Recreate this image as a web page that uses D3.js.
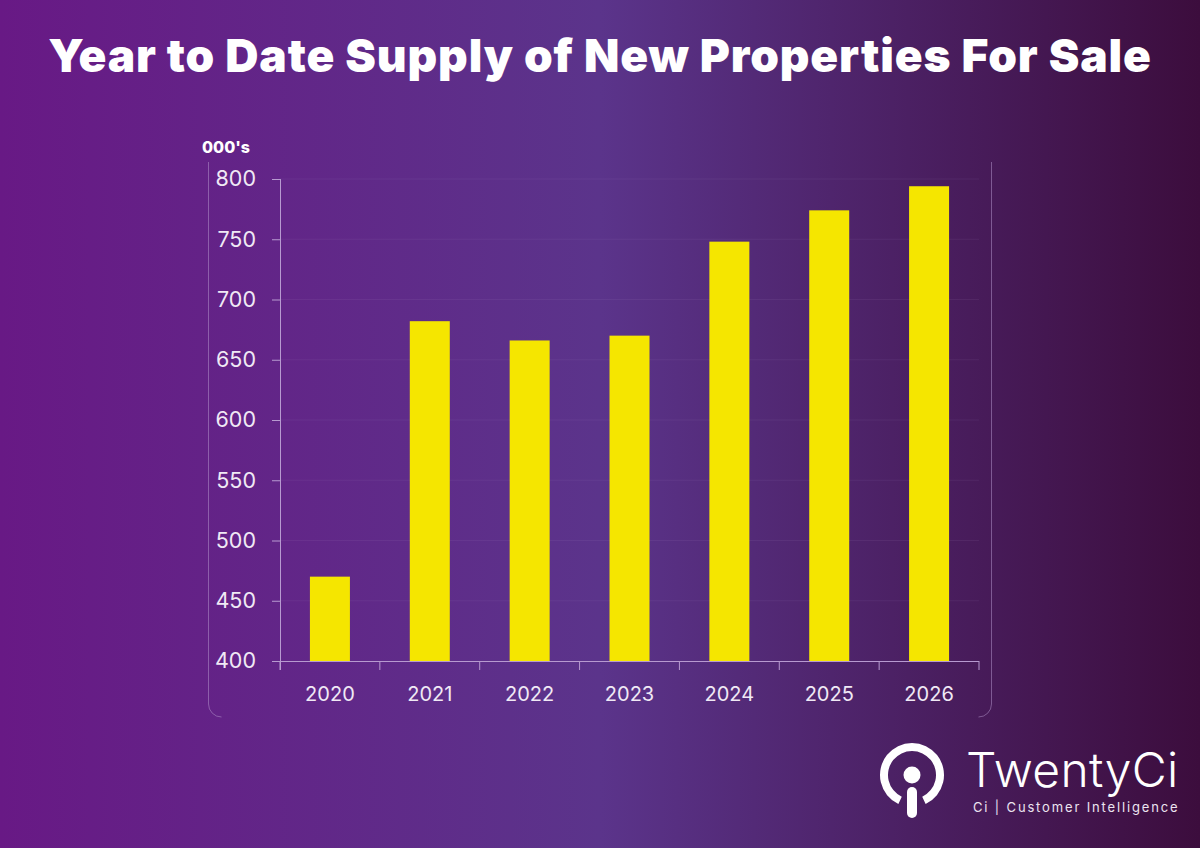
<!DOCTYPE html>
<html>
<head>
<meta charset="utf-8">
<script src="https://cdn.jsdelivr.net/npm/d3@7"></script>
<style>
html, body { margin: 0; padding: 0; background: #3a0c3b; }
svg { display: block; }
text { font-family: Inter, "Open Sans", sans-serif; }
</style>
</head>
<body>
<div id="chart"></div>
<script>
"use strict";

var years = ["2020", "2021", "2022", "2023", "2024", "2025", "2026"];
var supply = [470, 682, 666, 670, 748, 774, 794];
var yTicks = [400, 450, 500, 550, 600, 650, 700, 750, 800];

var width = 1200;
var height = 848;
var margin = {top: 179, right: 221, bottom: 187, left: 280};
var plotW = width - margin.left - margin.right;
var plotH = height - margin.top - margin.bottom;

var lineCol = "#b79ad0";

var svg = d3.select("#chart").append("svg")
	.attr("width", width)
	.attr("height", height);

var grad = svg.append("defs").append("linearGradient")
	.attr("id", "bg");
grad.append("stop").attr("offset", "0%").attr("stop-color", "#681985");
grad.append("stop").attr("offset", "50%").attr("stop-color", "#5b348b");
grad.append("stop").attr("offset", "100%").attr("stop-color", "#3c0d3d");

svg.append("rect")
	.attr("width", width)
	.attr("height", height)
	.attr("fill", "url(#bg)");

svg.append("text")
	.attr("x", 600)
	.attr("y", 72)
	.attr("text-anchor", "middle")
	.attr("font-size", 46)
	.attr("font-weight", 900)
	.attr("letter-spacing", 0.87)
	.attr("fill", "#ffffff")
	.text("Year to Date Supply of New Properties For Sale");

// panel round the chart: only the two sides and their corners show
svg.append("path")
	.attr("d", "M208.5,162V704a13,13 0 0 0 13,13M991.5,162V704a13,13 0 0 1 -13,13")
	.attr("fill", "none")
	.attr("stroke", lineCol)
	.attr("stroke-opacity", 0.5)
	.attr("stroke-width", 1);

svg.append("text")
	.attr("x", 202)
	.attr("y", 153)
	.attr("font-size", 16)
	.attr("font-weight", 800)
	.attr("fill", "#ffffff")
	.text("000's");

var x = d3.scaleBand()
	.domain(years)
	.range([0, plotW]);

var y = d3.scaleLinear()
	.domain([400, 800])
	.range([plotH, 0]);

var g = svg.append("g")
	.attr("transform", "translate(" + margin.left + "," + margin.top + ")");

g.selectAll("line.grid")
	.data(yTicks.slice(1))
	.enter()
	.append("line")
	.attr("class", "grid")
	.attr("x1", 0)
	.attr("x2", plotW)
	.attr("y1", function(d) { return y(d); })
	.attr("y2", function(d) { return y(d); })
	.attr("stroke", lineCol)
	.attr("stroke-opacity", 0.09);

g.selectAll("rect.bar")
	.data(supply)
	.enter()
	.append("rect")
	.attr("class", "bar")
	.attr("x", function(d, i) { return x(years[i]) + x.bandwidth() / 2 - 20; })
	.attr("width", 40)
	.attr("y", function(d) { return y(d); })
	.attr("height", function(d) { return plotH - y(d); })
	.attr("fill", "#f5e600");

var yAxis = g.append("g")
	.call(d3.axisLeft(y).tickValues(yTicks).tickSize(8).tickPadding(16));

var xAxis = g.append("g")
	.attr("transform", "translate(0," + plotH + ")")
	.call(d3.axisBottom(x).tickSize(0).tickPadding(26));

// ticks sit between the years, not under them
xAxis.selectAll("line.sep")
	.data(d3.range(years.length + 1))
	.enter()
	.append("line")
	.attr("class", "sep")
	.attr("x1", function(d) { return d * x.step(); })
	.attr("x2", function(d) { return d * x.step(); })
	.attr("y1", 0)
	.attr("y2", 9)
	.attr("stroke", lineCol);

[yAxis, xAxis].forEach(function(a) {
	a.select(".domain").attr("stroke", lineCol);
	a.selectAll(".tick line").attr("stroke", lineCol);
	a.selectAll("text")
		.attr("font-size", 20)
		.attr("font-family", "Inter, sans-serif")
		.attr("fill", "#f0e9f5");
});
yAxis.selectAll("text").attr("font-size", 21.5);
yAxis.select(".domain").attr("d", "M0.5,0V" + (plotH + 9));
xAxis.select(".domain").attr("d", "M-8,0.5H" + plotW);

// logo, drawn from plain shapes
var logo = svg.append("g").attr("transform", "translate(912,775)");
logo.append("path")
	.attr("d", d3.arc()
		.innerRadius(24)
		.outerRadius(32)
		.startAngle(-Math.PI * 0.86)
		.endAngle(Math.PI * 0.86)())
	.attr("fill", "#ffffff");
logo.append("circle")
	.attr("r", 8.5)
	.attr("fill", "#ffffff");
logo.append("rect")
	.attr("x", -5)
	.attr("y", 12)
	.attr("width", 10)
	.attr("height", 31)
	.attr("rx", 5)
	.attr("fill", "#ffffff");

svg.append("text")
	.attr("x", 966)
	.attr("y", 787)
	.attr("font-size", 48)
	.attr("font-weight", 350)
	.attr("letter-spacing", 0.3)
	.attr("fill", "#ffffff")
	.text("TwentyCi");

svg.append("text")
	.attr("x", 973)
	.attr("y", 812)
	.attr("font-size", 13)
	.attr("letter-spacing", 1.85)
	.attr("fill", "#ece4f0")
	.text("Ci | Customer Intelligence");
</script>
</body>
</html>
